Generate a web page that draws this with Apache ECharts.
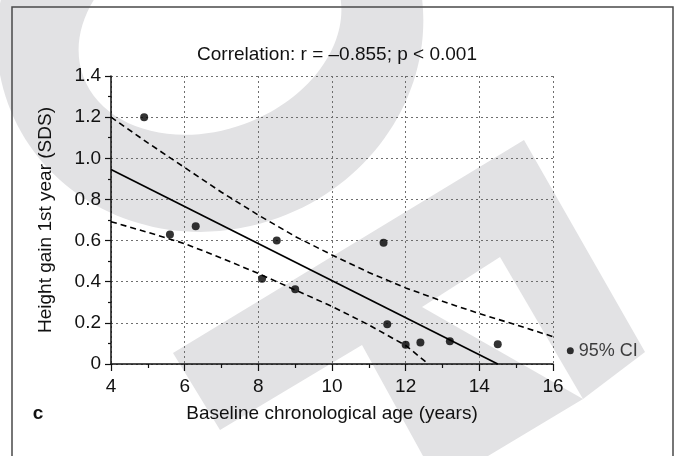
<!DOCTYPE html>
<html><head><meta charset="utf-8">
<script src="https://cdn.jsdelivr.net/npm/echarts@6/dist/echarts.min.js"></script>
<style>html,body{margin:0;padding:0;background:#fff}#c{width:676px;height:456px}</style>
</head><body><div id="c"></div>
<script>
// ---- data ----
const ageX  = [4.9, 5.6, 6.3, 8.5, 8.1, 9.0, 11.4, 11.5, 12.0, 12.4, 13.2, 14.5];
const gainY = [1.2, 0.63, 0.67, 0.6, 0.415, 0.363, 0.59, 0.193, 0.094, 0.104, 0.11, 0.096];
const fitX = [4, 14.5];
const fitY = [0.946, 0];
const ciUpperX = [4, 5, 6, 7, 8, 9, 10, 11, 12, 13, 14, 15, 16];
const ciUpperY = [1.2, 1.075, 0.955, 0.835, 0.724, 0.62, 0.53, 0.445, 0.37, 0.305, 0.245, 0.19, 0.133];
const ciLowerX = [4, 5, 6, 7, 8, 9, 10, 11, 12, 12.62];
const ciLowerY = [0.692, 0.64, 0.585, 0.515, 0.44, 0.36, 0.28, 0.19, 0.09, 0];
const calloutX = [16.22, 16.47];
const calloutY = [0.1, 0.065];
const xTickLabels = ['4', '6', '8', '10', '12', '14', '16'];
const yTickLabels = ['0', '0.2', '0.4', '0.6', '0.8', '1.0', '1.2', '1.4'];
const titleText = 'Correlation: r = \u20130.855; p < 0.001';
const xName = 'Baseline chronological age (years)';
const yName = 'Height gain 1st year (SDS)';
const panelLetter = 'c';
const ciLabel = '95% CI';

const zip = (xs, ys) => xs.map((x, i) => [x, ys[i]]);
const FONT = '"Liberation Sans", Arial, sans-serif';
const INK = '#111';
const WM = '#e2e2e4';

const chart = echarts.init(document.getElementById('c'), null, {renderer: 'canvas'});
chart.setOption({
  backgroundColor: '#fff',
  animation: false,
  textStyle: {fontFamily: FONT},
  title: {
    text: titleText, left: 332, top: 40, textAlign: 'center',
    textStyle: {fontFamily: FONT, fontSize: 19, fontWeight: 'normal', color: INK}
  },
  grid: {left: 111, top: 76, width: 442, height: 288, containLabel: false},
  xAxis: {
    type: 'value', min: 4, max: 16, interval: 2,
    name: xName, nameLocation: 'middle', nameGap: 40,
    nameTextStyle: {fontFamily: FONT, fontSize: 19, color: INK},
    axisLine: {show: true, onZero: false, lineStyle: {color: INK, width: 1.5}},
    axisTick: {show: true, length: 7, lineStyle: {color: INK, width: 1.2}},
    minorTick: {show: true, splitNumber: 2, length: 4, lineStyle: {color: INK, width: 1.2}},
    axisLabel: {margin: 13, fontFamily: FONT, fontSize: 19, color: INK,
      formatter: v => xTickLabels[Math.round((v - 4) / 2)]},
    splitLine: {show: true, lineStyle: {color: '#6e6e6e', width: 1, type: [2, 3]}},
    minorSplitLine: {show: false}
  },
  yAxis: {
    type: 'value', min: 0, max: 1.4, interval: 0.2,
    name: yName, nameLocation: 'middle', nameGap: 56, nameRotate: 90,
    nameTextStyle: {fontFamily: FONT, fontSize: 19, color: INK},
    axisLine: {show: true, onZero: false, lineStyle: {color: INK, width: 1.5}},
    axisTick: {show: true, length: 6, lineStyle: {color: INK, width: 1.2}},
    minorTick: {show: true, splitNumber: 2, length: 3, lineStyle: {color: INK, width: 1.2}},
    axisLabel: {margin: 10, fontFamily: FONT, fontSize: 19, color: INK,
      formatter: v => yTickLabels[Math.round(v / 0.2)]},
    splitLine: {show: true, lineStyle: {color: '#6e6e6e', width: 1, type: [2, 3]}},
    minorSplitLine: {show: false}
  },
  graphic: [
    // background watermark (decoration, not data)
    {type: 'ellipse', x: 210, y: 30, rotation: 0.35, silent: true, z: -10,
      shape: {cx: 0, cy: 0, rx: 215, ry: 200}, style: {fill: WM}},
    {type: 'ellipse', x: 210, y: 30, rotation: 0.35, silent: true, z: -9,
      shape: {cx: 0, cy: 0, rx: 135, ry: 100}, style: {fill: '#fff'}},
    {type: 'polygon', silent: true, z: -8,
      shape: {points: [[173, 353], [524, 140], [645, 352], [583, 399], [488, 456],
                       [423, 456], [362, 345], [220, 430]]},
      style: {fill: WM}},
    {type: 'polygon', silent: true, z: -7,
      shape: {points: [[500, 257], [422, 307], [583, 399]]},
      style: {fill: '#fff'}},
    {type: 'rect', silent: true, z: -5,
      shape: {x: 12, y: 7, width: 661, height: 470},
      style: {fill: 'none', stroke: '#4a4a4a', lineWidth: 1.5}},
    {type: 'text', silent: true, z: 5, x: 38, y: 414,
      style: {text: panelLetter, fontFamily: FONT, fontSize: 19, fontWeight: 'bold', fill: INK,
        textAlign: 'center', textVerticalAlign: 'middle'}}
  ],
  series: [
    {type: 'line', name: 'fit', data: zip(fitX, fitY), symbol: 'none', clip: false,
      lineStyle: {color: '#000', width: 1.7}, z: 3},
    {type: 'line', name: 'upper', data: zip(ciUpperX, ciUpperY), symbol: 'none', clip: false,
      lineStyle: {color: '#000', width: 1.6, type: [6, 4]}, z: 3},
    {type: 'line', name: 'lower', data: zip(ciLowerX, ciLowerY), symbol: 'none', clip: false,
      lineStyle: {color: '#000', width: 1.6, type: [6, 4]}, z: 3},
    {type: 'line', name: 'callout', data: zip(calloutX, calloutY), symbol: 'none', clip: false,
      lineStyle: {color: '#000', width: 1.3}, z: 3},
    {type: 'scatter', name: 'calloutDot', data: [[calloutX[1], calloutY[1]]], clip: false,
      symbol: 'circle', symbolSize: 7, itemStyle: {color: '#000'}, z: 4,
      label: {show: true, position: 'right', distance: 5, formatter: ciLabel,
        fontFamily: FONT, fontSize: 18, color: INK}},
    {type: 'scatter', name: 'points', data: zip(ageX, gainY), symbol: 'circle', symbolSize: 8,
      itemStyle: {color: '#000'}, z: 4}
  ]
});
</script>
</body></html>
